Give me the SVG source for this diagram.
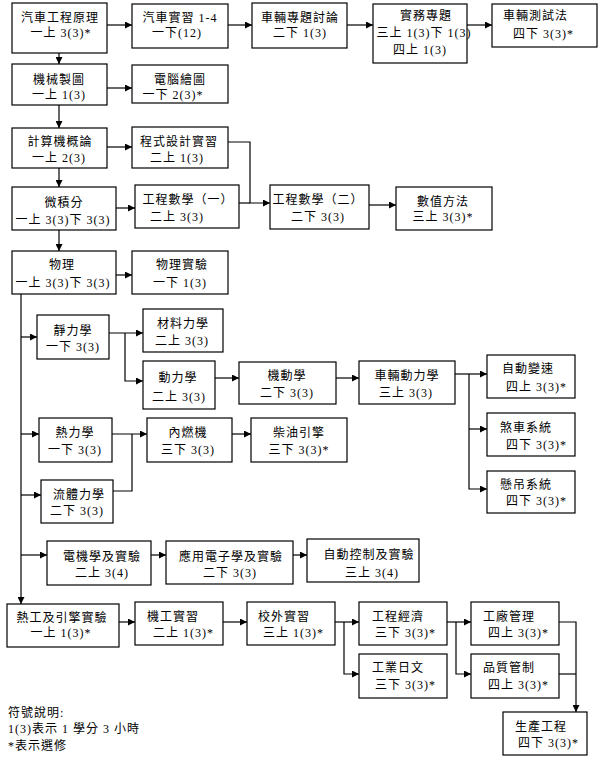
<svg xmlns="http://www.w3.org/2000/svg" width="602" height="770" viewBox="0 0 602 770">
<style>
.b{fill:#fff;stroke:#000;stroke-width:1.2}
.t{font-family:"Liberation Serif","Noto Sans CJK TC",serif;font-size:12px;fill:#000;letter-spacing:1px}
.m{text-anchor:middle}
.c{fill:none;stroke:#000;stroke-width:1.2}
.a{marker-end:url(#ar)}
</style>
<defs>
<marker id="ar" markerUnits="userSpaceOnUse" markerWidth="8" markerHeight="7" refX="7" refY="3.5" orient="auto">
<path d="M0,0 L7,3.5 L0,7 z" fill="#000"/>
</marker>
</defs>
<g id="connectors">
<path class="c a" d="M107,25 H132"/>
<path class="c a" d="M228,25 H252"/>
<path class="c a" d="M347,25 H373"/>
<path class="c a" d="M467,25 H492"/>
<path class="c a" d="M59,53 V64"/>
<path class="c a" d="M107,88 H132"/>
<path class="c a" d="M59,105 V128"/>
<path class="c a" d="M107,147 H132"/>
<path class="c a" d="M228,142 H250 V203 H270"/>
<path class="c" d="M239,203 H250"/>
<path class="c a" d="M59,168 V187"/>
<path class="c a" d="M116,208 H135"/>
<path class="c a" d="M369,205 H396"/>
<path class="c a" d="M59,230 V251"/>
<path class="c a" d="M116,275 H132"/>
<path class="c a" d="M21,294 V604"/>
<path class="c a" d="M21,337 H37"/>
<path class="c a" d="M109,333 H143"/>
<path class="c a" d="M125,333 V381 H143"/>
<path class="c a" d="M215,378 H239"/>
<path class="c a" d="M336,378 H359"/>
<path class="c a" d="M455,374 H487"/>
<path class="c a" d="M469,374 V489 H487"/>
<path class="c a" d="M469,429 H487"/>
<path class="c a" d="M21,434 H39"/>
<path class="c a" d="M112,434 H147"/>
<path class="c" d="M113,491 H132 V434"/>
<path class="c a" d="M232,434 H251"/>
<path class="c a" d="M21,495 H41"/>
<path class="c a" d="M21,555 H47"/>
<path class="c a" d="M151,555 H166"/>
<path class="c a" d="M293,555 H307"/>
<path class="c a" d="M119,622 H135"/>
<path class="c a" d="M223,622 H247"/>
<path class="c a" d="M335,622 H359"/>
<path class="c a" d="M344,622 V674 H359"/>
<path class="c a" d="M447,622 H471"/>
<path class="c a" d="M456,622 V674 H471"/>
<path class="c a" d="M559,622 H576 V712"/>
<path class="c" d="M559,674 H576"/>
</g>
<g id="n1"><rect class="b" x="12" y="3" width="95" height="50"/><text class="t m" x="60" y="22">汽車工程原理</text><text class="t m" x="61" y="37">一上 3(3)*</text></g>
<g id="n2"><rect class="b" x="132" y="4" width="96" height="44"/><text class="t m" x="180" y="22">汽車實習 1-4</text><text class="t m" x="177" y="37">一下(12)</text></g>
<g id="n3"><rect class="b" x="252" y="3" width="95" height="45"/><text class="t m" x="300" y="22">車輛專題討論</text><text class="t m" x="300" y="37">二下 1(3)</text></g>
<g id="n4"><rect class="b" x="373" y="4" width="94" height="59"/><text class="t m" x="426" y="20">實務專題</text><text class="t m" x="424" y="37">三上 1(3)下 1(3)</text><text class="t m" x="420" y="54">四上 1(3)</text></g>
<g id="n5"><rect class="b" x="492" y="4" width="105" height="43"/><text class="t" x="503" y="20">車輛測試法</text><text class="t" x="513" y="38">四下 3(3)*</text></g>
<g id="n6"><rect class="b" x="12" y="64" width="95" height="41"/><text class="t m" x="59" y="84">機械製圖</text><text class="t m" x="59" y="99">一上 1(3)</text></g>
<g id="n7"><rect class="b" x="132" y="65" width="96" height="38"/><text class="t m" x="180" y="84">電腦繪圖</text><text class="t m" x="173" y="99">一下 2(3)*</text></g>
<g id="n8"><rect class="b" x="12" y="128" width="95" height="40"/><text class="t m" x="60" y="146">計算機概論</text><text class="t m" x="59" y="162">一上 2(3)</text></g>
<g id="n9"><rect class="b" x="132" y="127" width="96" height="41"/><text class="t m" x="179" y="146">程式設計實習</text><text class="t m" x="177" y="162">二上 1(3)</text></g>
<g id="n10"><rect class="b" x="12" y="187" width="104" height="43"/><text class="t m" x="64" y="207">微積分</text><text class="t m" x="63" y="224">一上 3(3)下 3(3)</text></g>
<g id="n11"><rect class="b" x="135" y="185" width="104" height="43"/><text class="t m" x="188" y="204">工程數學（一）</text><text class="t m" x="177" y="221">二上 3(3)</text></g>
<g id="n12"><rect class="b" x="270" y="185" width="99" height="44"/><text class="t m" x="318" y="204">工程數學（二）</text><text class="t m" x="318" y="221">二下 3(3)</text></g>
<g id="n13"><rect class="b" x="396" y="187" width="96" height="43"/><text class="t m" x="443" y="206">數值方法</text><text class="t m" x="443" y="221">三上 3(3)*</text></g>
<g id="n14"><rect class="b" x="12" y="251" width="104" height="43"/><text class="t m" x="62" y="269">物理</text><text class="t m" x="63" y="287">一上 3(3)下 3(3)</text></g>
<g id="n15"><rect class="b" x="132" y="251" width="96" height="43"/><text class="t m" x="182" y="269">物理實驗</text><text class="t m" x="180" y="287">一下 1(3)</text></g>
<g id="n16"><rect class="b" x="37" y="315" width="72" height="44"/><text class="t m" x="73" y="335">靜力學</text><text class="t m" x="73" y="351">一下 3(3)</text></g>
<g id="n17"><rect class="b" x="143" y="309" width="80" height="43"/><text class="t m" x="183" y="328">材料力學</text><text class="t m" x="182" y="345">二上 3(3)</text></g>
<g id="n18"><rect class="b" x="143" y="361" width="72" height="48"/><text class="t m" x="178" y="382">動力學</text><text class="t m" x="179" y="401">二上 3(3)</text></g>
<g id="n19"><rect class="b" x="239" y="362" width="97" height="42"/><text class="t m" x="287" y="380">機動學</text><text class="t m" x="287" y="397">二下 3(3)</text></g>
<g id="n20"><rect class="b" x="359" y="361" width="96" height="43"/><text class="t m" x="407" y="380">車輛動力學</text><text class="t m" x="406" y="397">三上 3(3)</text></g>
<g id="n21"><rect class="b" x="487" y="355" width="88" height="43"/><text class="t" x="502" y="373">自動變速</text><text class="t" x="506" y="391">四上 3(3)*</text></g>
<g id="n22"><rect class="b" x="487" y="413" width="88" height="43"/><text class="t" x="500" y="432">煞車系統</text><text class="t" x="506" y="449">四下 3(3)*</text></g>
<g id="n23"><rect class="b" x="487" y="471" width="88" height="42"/><text class="t" x="500" y="489">懸吊系統</text><text class="t" x="506" y="505">四下 3(3)*</text></g>
<g id="n24"><rect class="b" x="39" y="418" width="73" height="44"/><text class="t m" x="75" y="437">熱力學</text><text class="t m" x="75" y="454">一下 3(3)</text></g>
<g id="n25"><rect class="b" x="41" y="480" width="72" height="43"/><text class="t m" x="79" y="499">流體力學</text><text class="t m" x="77" y="515">二下 3(3)</text></g>
<g id="n26"><rect class="b" x="147" y="418" width="85" height="44"/><text class="t m" x="188" y="437">內燃機</text><text class="t m" x="188" y="454">三下 3(3)</text></g>
<g id="n27"><rect class="b" x="251" y="418" width="96" height="44"/><text class="t m" x="299" y="437">柴油引擎</text><text class="t m" x="299" y="454">三下 3(3)*</text></g>
<g id="n28"><rect class="b" x="47" y="541" width="104" height="44"/><text class="t m" x="102" y="561">電機學及實驗</text><text class="t m" x="102" y="577">二上 3(4)</text></g>
<g id="n29"><rect class="b" x="166" y="541" width="127" height="43"/><text class="t m" x="231" y="561">應用電子學及實驗</text><text class="t m" x="230" y="577">二下 3(3)</text></g>
<g id="n30"><rect class="b" x="307" y="539" width="112" height="43"/><text class="t m" x="369" y="559">自動控制及實驗</text><text class="t m" x="372" y="577">三上 3(4)</text></g>
<g id="n31"><rect class="b" x="7" y="604" width="112" height="43"/><text class="t m" x="62" y="622">熱工及引擎實驗</text><text class="t m" x="61" y="637">一上 1(3)*</text></g>
<g id="n32"><rect class="b" x="135" y="602" width="88" height="43"/><text class="t" x="147" y="621">機工實習</text><text class="t" x="153" y="637">二上 1(3)*</text></g>
<g id="n33"><rect class="b" x="247" y="602" width="88" height="43"/><text class="t" x="258" y="621">校外實習</text><text class="t" x="263" y="637">三上 1(3)*</text></g>
<g id="n34"><rect class="b" x="359" y="602" width="88" height="43"/><text class="t" x="372" y="621">工程經濟</text><text class="t" x="375" y="637">三下 3(3)*</text></g>
<g id="n35"><rect class="b" x="359" y="654" width="88" height="44"/><text class="t" x="372" y="672">工業日文</text><text class="t" x="375" y="689">三下 3(3)*</text></g>
<g id="n36"><rect class="b" x="471" y="602" width="88" height="43"/><text class="t" x="483" y="621">工廠管理</text><text class="t" x="488" y="637">四上 3(3)*</text></g>
<g id="n37"><rect class="b" x="471" y="654" width="88" height="44"/><text class="t" x="483" y="672">品質管制</text><text class="t" x="488" y="689">四上 3(3)*</text></g>
<g id="n38"><rect class="b" x="503" y="712" width="84" height="43"/><text class="t" x="515" y="731">生產工程</text><text class="t" x="518" y="747">四下 3(3)*</text></g>
<g id="legend"><text class="t" x="8" y="717">符號說明:</text><text class="t" x="8" y="733">1(3)表示 1 學分 3 小時</text><text class="t" x="8" y="750">*表示選修</text></g>
</svg>
